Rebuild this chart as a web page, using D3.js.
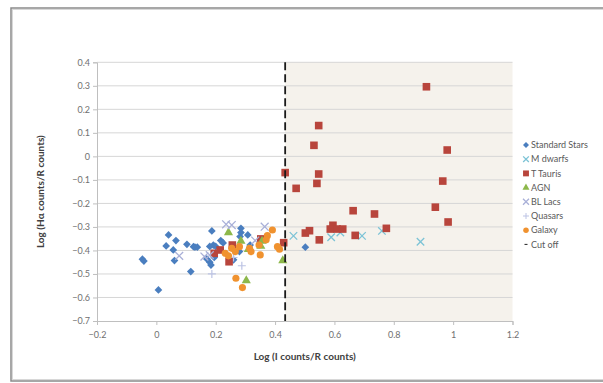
<!DOCTYPE html>
<html><head><meta charset="utf-8">
<script src="https://cdn.jsdelivr.net/npm/d3@7"></script>
<style>body{margin:0;background:#fff}svg{display:block}text{font-family:Lato,"Open Sans",sans-serif}</style>
</head><body>
<svg id="c" width="603" height="383"></svg>
<script>
const xTicks = [-0.2, 0, 0.2, 0.4, 0.6, 0.8, 1, 1.2];
const yTicks = [0.4, 0.3, 0.2, 0.1, 0, -0.1, -0.2, -0.3, -0.4, -0.5, -0.6, -0.7];
const standardStars = [[-0.047,-0.437],[-0.042,-0.445],[0.007,-0.568],[0.033,-0.381],[0.041,-0.334],[0.057,-0.398],[0.061,-0.443],[0.066,-0.358],[0.103,-0.374],[0.116,-0.49],[0.125,-0.384],[0.13,-0.386],[0.138,-0.386],[0.17,-0.436],[0.184,-0.462],[0.187,-0.317],[0.18,-0.45],[0.192,-0.377],[0.18,-0.383],[0.2,-0.383],[0.195,-0.43],[0.217,-0.358],[0.225,-0.368],[0.285,-0.306],[0.285,-0.324],[0.282,-0.341],[0.308,-0.334],[0.26,-0.44],[0.316,-0.377],[0.28,-0.405],[0.502,-0.386]];
const mDwarfs = [[0.462,-0.338],[0.589,-0.344],[0.62,-0.324],[0.693,-0.338],[0.76,-0.317],[0.89,-0.363]];
const tTauri = [[0.91,0.296],[0.98,0.027],[0.965,-0.105],[0.94,-0.216],[0.983,-0.279],[0.547,0.131],[0.531,0.047],[0.434,-0.069],[0.547,-0.075],[0.541,-0.115],[0.471,-0.136],[0.663,-0.231],[0.735,-0.245],[0.775,-0.306],[0.595,-0.293],[0.586,-0.309],[0.609,-0.309],[0.628,-0.309],[0.516,-0.316],[0.502,-0.326],[0.67,-0.336],[0.549,-0.355],[0.429,-0.367],[0.352,-0.351],[0.256,-0.377],[0.215,-0.398],[0.195,-0.412],[0.245,-0.448]];
const agn = [[0.243,-0.324],[0.285,-0.36],[0.356,-0.36],[0.352,-0.382],[0.426,-0.443],[0.303,-0.528],[0.31,-0.395]];
const blLacs = [[0.235,-0.289],[0.254,-0.292],[0.365,-0.299],[0.333,-0.358],[0.162,-0.426],[0.077,-0.423],[0.18,-0.42]];
const quasars = [[0.288,-0.465],[0.187,-0.5],[0.26,-0.43]];
const galaxy = [[0.391,-0.313],[0.374,-0.337],[0.37,-0.355],[0.346,-0.377],[0.408,-0.384],[0.415,-0.395],[0.28,-0.384],[0.314,-0.391],[0.254,-0.391],[0.266,-0.405],[0.232,-0.412],[0.243,-0.423],[0.319,-0.405],[0.35,-0.419],[0.268,-0.518],[0.29,-0.558]];
const cutOff = [[0.434,0.4],[0.434,-0.7]];

const svg = d3.select("#c");
const L=97, R=512.5, T=62.3, B=321;
const x = d3.scaleLinear().domain([-0.2,1.2]).range([L,R]);
const y = d3.scaleLinear().domain([-0.7,0.4]).range([B,T]);

// outer border
svg.append("rect").attr("x",11).attr("y",8).attr("width",620).attr("height",373)
  .attr("fill","none").attr("stroke","#8a8a8a").attr("stroke-width",1.5);
svg.append("rect").attr("x",12.5).attr("y",9.5).attr("width",620).attr("height",370)
  .attr("fill","none").attr("stroke","#d8d8d8").attr("stroke-width",1);

// shaded region
svg.append("rect").attr("x",x(cutOff[0][0])).attr("y",y(0.4))
  .attr("width",x(1.2)-x(cutOff[0][0])).attr("height",y(-0.7)-y(0.4)).attr("fill","#f5f2ec");

// gridlines
svg.append("g").selectAll("line").data(yTicks.filter(d=>d>-0.7)).join("line")
  .attr("x1",L).attr("x2",R).attr("y1",d=>y(d)).attr("y2",d=>y(d))
  .attr("stroke","#d6d6d6").attr("stroke-width",1);

// axes
const yAxis = d3.axisLeft(y).tickValues(yTicks).tickSize(4).tickFormat(d=>d3.format("")(+d.toFixed(1)));
const gy = svg.append("g").attr("transform",`translate(${L},0)`).call(yAxis);
const xAxis = d3.axisBottom(x).tickValues(xTicks).tickSize(4).tickFormat(d=>d3.format("")(+d.toFixed(1)));
const gx = svg.append("g").attr("transform",`translate(0,${B})`).call(xAxis);
[gx,gy].forEach(g=>{
  g.select(".domain").attr("stroke","#bfbfbf");
  g.selectAll(".tick line").attr("stroke","#bfbfbf");
  g.selectAll(".tick text").attr("fill","#707070").style("font-size","9px").style("font-family","Lato, sans-serif");
});
gy.selectAll(".tick text").attr("x",-7);
gx.selectAll(".tick text").attr("y",11);

// titles
svg.append("text").attr("x",(L+R)/2).attr("y",360).attr("text-anchor","middle")
  .style("font-size","10px").style("font-weight","bold").attr("fill","#404040").text("Log (I counts/R counts)");
svg.append("text").attr("transform",`translate(44,${(T+B)/2}) rotate(-90)`).attr("text-anchor","middle")
  .style("font-size","10px").style("font-weight","bold").attr("fill","#404040").text("Log (Hα counts/R counts)");

const plot = svg.append("g");
const sym = (type,size)=>d3.symbol().type(type).size(size);
const diamond = {draw(ctx,size){const r=Math.sqrt(size)/1.6;ctx.moveTo(0,-r);ctx.lineTo(r,0);ctx.lineTo(0,r);ctx.lineTo(-r,0);ctx.closePath();}};

function drawSeries(data, shape, size, fill, stroke, sw){
  plot.append("g").selectAll("path").data(data).join("path")
    .attr("transform",d=>`translate(${x(d[0])},${y(d[1])})`)
    .attr("d",sym(shape,size)()).attr("fill",fill).attr("stroke",stroke).attr("stroke-width",sw||0);
}
const series = [
  {name:"Standard Stars", data:standardStars, shape:diamond, size:38, fill:"#4a7ebf", stroke:"none"},
  {name:"M dwarfs", data:mDwarfs, shape:d3.symbolTimes, size:38, fill:"none", stroke:"#7cc3d6", sw:1.3},
  {name:"T Tauris", data:tTauri, shape:d3.symbolSquare, size:58, fill:"#b8453c", stroke:"none"},
  {name:"AGN", data:agn, shape:d3.symbolTriangle, size:36, fill:"#8db84a", stroke:"none"},
  {name:"BL Lacs", data:blLacs, shape:d3.symbolTimes, size:42, fill:"none", stroke:"#a9b0d8", sw:1.3},
  {name:"Quasars", data:quasars, shape:d3.symbolCross, size:40, fill:"none", stroke:"#bcc3e4", sw:0, plus:true},
  {name:"Galaxy", data:galaxy, shape:d3.symbolCircle, size:40, fill:"#f0922f", stroke:"none"}
];
series.forEach(s=>{
  if(s.plus){
    plot.append("g").selectAll("path").data(s.data).join("path")
      .attr("transform",d=>`translate(${x(d[0])},${y(d[1])})`)
      .attr("d","M-4,0H4M0,-4V4").attr("fill","none").attr("stroke",s.stroke).attr("stroke-width",1.2);
  } else drawSeries(s.data,s.shape,s.size,s.fill,s.stroke,s.sw);
});

// cut off line
plot.append("path").attr("d",d3.line().x(d=>x(d[0])).y(d=>y(d[1]))(cutOff))
  .attr("stroke","#1a1a1a").attr("stroke-width",1.8).attr("stroke-dasharray","8,4").attr("fill","none");

// legend
const lg = svg.append("g");
const ly0 = 145, ldy = 14.2, lx = 526;
series.concat([{name:"Cut off", cut:true}]).forEach((s,i)=>{
  const gy2 = ly0 + i*ldy;
  const g = lg.append("g").attr("transform",`translate(${lx},${gy2})`);
  if(s.cut){
    g.append("line").attr("x1",-1.5).attr("x2",1.5).attr("stroke","#222").attr("stroke-width",1);
  } else if(s.plus){
    g.append("path").attr("d","M-3,0H3M0,-3V3").attr("stroke",s.stroke).attr("stroke-width",1);
  } else {
    g.append("path").attr("d",sym(s.shape,s.size*0.6)()).attr("fill",s.fill).attr("stroke",s.stroke).attr("stroke-width",s.sw||0);
  }
  g.append("text").attr("x",5).attr("y",3.2).style("font-size","9px").attr("fill","#595959").text(s.name);
});
</script>
</body></html>
